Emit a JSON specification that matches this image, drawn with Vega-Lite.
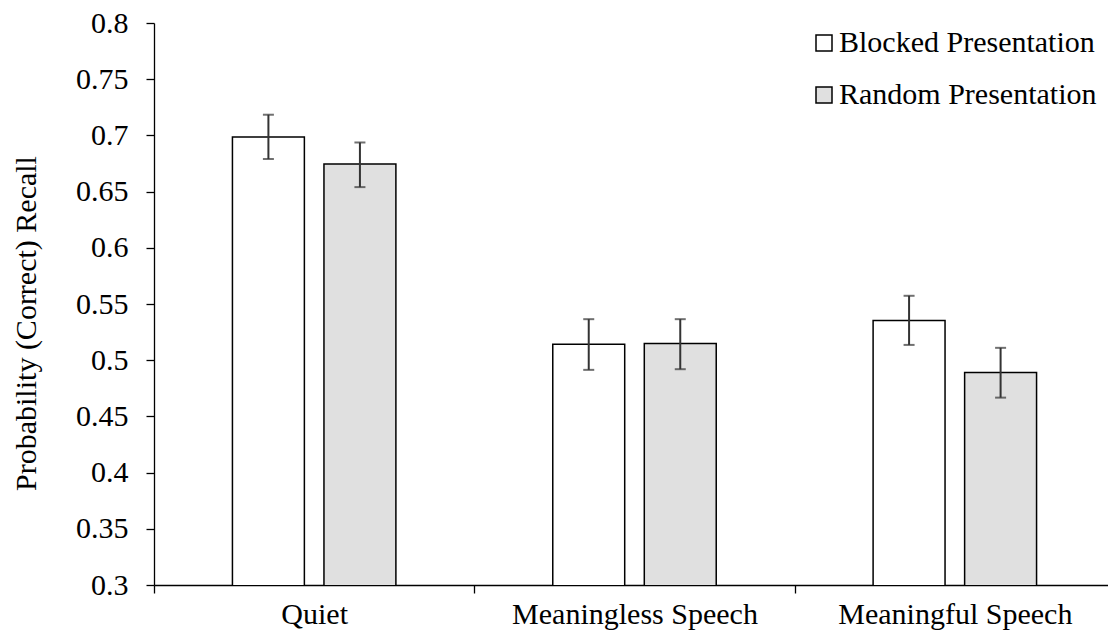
{
  "$schema": "https://vega.github.io/schema/vega-lite/v6.json",
  "autosize": {"type": "none"},
  "padding": {"left": 154, "top": 23, "right": 0, "bottom": 52},
  "width": 954,
  "height": 562,
  "background": "white",
  "config": {
    "view": {"stroke": null},
    "font": "Liberation Serif",
    "axis": {"grid": false, "domainColor": "black", "tickColor": "black", "labelColor": "black", "titleColor": "black", "labelFont": "Liberation Serif", "titleFont": "Liberation Serif", "domainWidth": 1.3, "tickWidth": 1.3}
  },
  "data": {
    "values": [
      {"cond": "Quiet", "pres": "Blocked Presentation", "mean": 0.6985, "lo": 0.679, "hi": 0.7184},
      {"cond": "Quiet", "pres": "Random Presentation", "mean": 0.6745, "lo": 0.654, "hi": 0.6937},
      {"cond": "Meaningless Speech", "pres": "Blocked Presentation", "mean": 0.5143, "lo": 0.4914, "hi": 0.5365},
      {"cond": "Meaningless Speech", "pres": "Random Presentation", "mean": 0.5148, "lo": 0.492, "hi": 0.5365},
      {"cond": "Meaningful Speech", "pres": "Blocked Presentation", "mean": 0.5353, "lo": 0.5136, "hi": 0.5573},
      {"cond": "Meaningful Speech", "pres": "Random Presentation", "mean": 0.489, "lo": 0.4667, "hi": 0.511}
    ]
  },
  "encoding": {
    "x": {
      "field": "cond", "type": "nominal",
      "sort": ["Quiet", "Meaningless Speech", "Meaningful Speech"],
      "scale": {"range": [0, 961], "paddingInner": 0, "paddingOuter": 0},
      "axis": {"title": null, "labelAngle": 0, "labelFontSize": 30, "labelPadding": 6, "tickSize": 8, "tickBand": "extent", "labelFont": "Liberation Serif", "labelLimit": 400}
    },
    "xOffset": {
      "field": "pres", "type": "nominal",
      "scale": {"paddingInner": 0.214, "paddingOuter": 0.857}
    }
  },
  "layer": [
    {
      "mark": {"type": "bar", "stroke": "black", "strokeWidth": 1.5, "clip": true},
      "encoding": {
        "y": {
          "field": "mean", "type": "quantitative",
          "scale": {"domain": [0.3, 0.8], "zero": false, "nice": false},
          "axis": {
            "title": "Probability (Correct) Recall",
            "values": [0.3, 0.35, 0.4, 0.45, 0.5, 0.55, 0.6, 0.65, 0.7, 0.75, 0.8],
            "format": ".2~f",
            "labelFontSize": 30, "titleFontSize": 30, "titleFontWeight": "normal",
            "labelFont": "Liberation Serif", "titleFont": "Liberation Serif",
            "tickSize": 8, "labelPadding": 18,
            "titleX": -119, "titleY": 300, "titleAlign": "center", "titleBaseline": "alphabetic", "titleAngle": -90
          }
        },
        "fill": {
          "field": "pres", "type": "nominal",
          "scale": {"range": ["white", "#e0e0e0"]},
          "legend": {
            "title": null, "orient": "none", "legendX": 655, "legendY": 5,
            "symbolType": "square", "symbolSize": 256, "symbolStrokeColor": "black", "symbolStrokeWidth": 1.5,
            "labelFontSize": 30, "labelFont": "Liberation Serif", "labelColor": "black", "labelOffset": 0, "rowPadding": 22, "labelLimit": 500
          }
        }
      }
    },
    {
      "mark": {"type": "rule", "color": "#333333", "strokeWidth": 2},
      "encoding": {
        "y": {"field": "lo", "type": "quantitative"},
        "y2": {"field": "hi"}
      }
    },
    {
      "mark": {"type": "tick", "color": "#333333", "thickness": 2, "size": 11},
      "encoding": {"y": {"field": "lo", "type": "quantitative"}}
    },
    {
      "mark": {"type": "tick", "color": "#333333", "thickness": 2, "size": 11},
      "encoding": {"y": {"field": "hi", "type": "quantitative"}}
    }
  ]
}
